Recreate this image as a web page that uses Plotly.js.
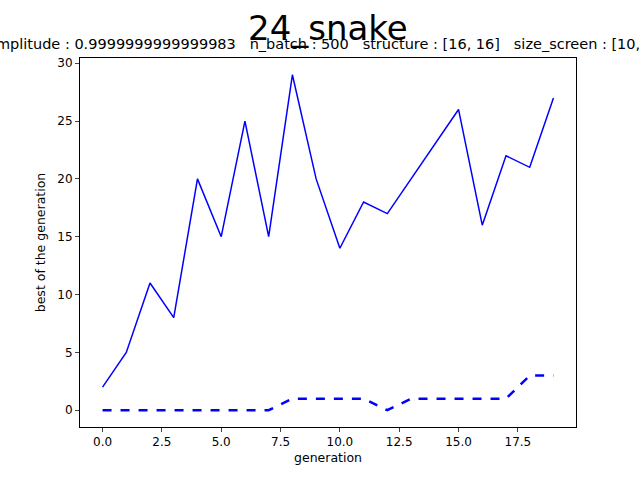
<html><head><script src="https://cdn.plot.ly/plotly-3.0.1.min.js"></script></head>
<body style="margin:0"><div id="plot"></div>
<script>
var generation = [0,1,2,3,4,5,6,7,8,9,10,11,12,13,14,15,16,17,18,19];
var best = [2,5,11,8,20,15,25,15,29,20,14,18,17,20,23,26,16,22,21,27];
var mean = [0,0,0,0,0,0,0,0,1,1,1,1,0,1,1,1,1,1,3,3];
var subtitle = 'amplitude : 0.9999999999999983   n_batch : 500   structure : [16, 16]   size_screen : [10, 10]';

var data = [
  {x: generation, y: best, mode: 'lines', line: {color: 'blue', width: 1.5}},
  {x: generation, y: mean, mode: 'lines', line: {color: 'blue', width: 2.5, dash: 'dash'}}
];
var tickFont = {family: 'DejaVu Sans', size: 12, color: 'black'};
var layout = {
  width: 640, height: 480, showlegend: false,
  margin: {l: 80, r: 64, t: 58, b: 53},
  paper_bgcolor: 'white', plot_bgcolor: 'white',
  font: {family: 'DejaVu Sans', color: 'black'},
  xaxis: {range: [-0.95, 19.95], tickvals: [0,2.5,5,7.5,10,12.5,15,17.5], ticktext: ['0.0','2.5','5.0','7.5','10.0','12.5','15.0','17.5'],
    showgrid: false, zeroline: false, showline: true, mirror: true, linecolor: 'black', linewidth: 1,
    ticks: 'outside', ticklen: 4, tickfont: tickFont, title: {text: 'generation', font: {size: 12.5}, standoff: 4}},
  yaxis: {range: [-1.45, 30.45], tickvals: [0,5,10,15,20,25,30],
    showgrid: false, zeroline: false, showline: true, mirror: true, linecolor: 'black', linewidth: 1,
    ticks: 'outside', ticklen: 4, tickfont: tickFont, title: {text: 'best of the generation', font: {size: 12.5}, standoff: 8}},
  annotations: [
    {text: '24_snake', xref: 'paper', yref: 'paper', x: 0.5, y: 1, yshift: 30, xanchor: 'center', yanchor: 'middle', showarrow: false, font: {size: 34}},
    {text: subtitle, xref: 'paper', yref: 'paper', x: 0.5, y: 1, yshift: 14, xanchor: 'center', yanchor: 'middle', showarrow: false, font: {size: 14.5}}
  ]
};
Plotly.newPlot('plot', data, layout, {displayModeBar: false});
</script></body></html>
